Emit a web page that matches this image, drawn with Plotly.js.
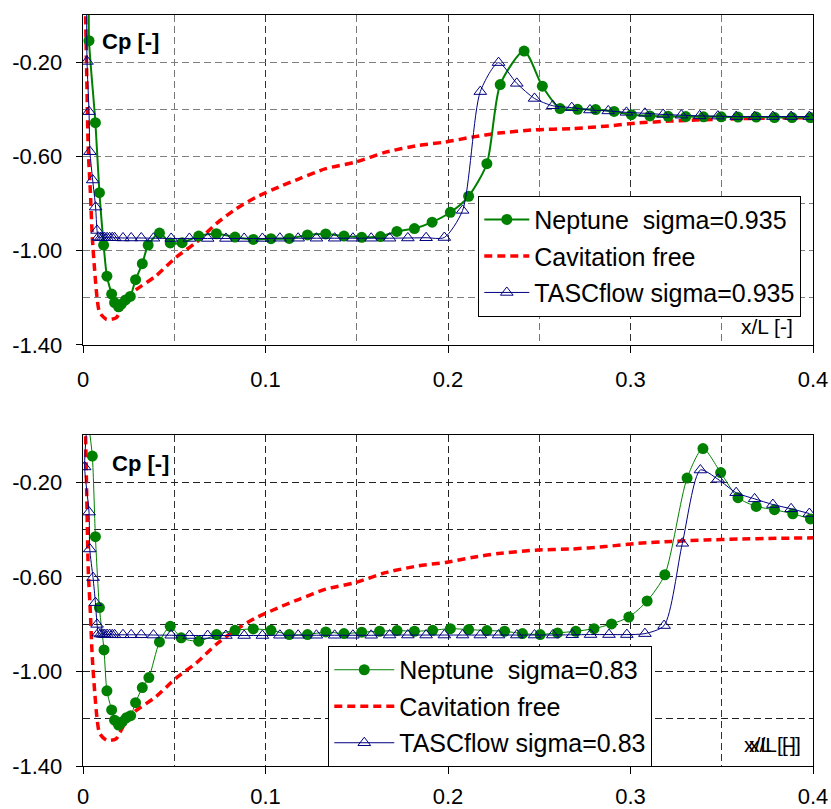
<!DOCTYPE html>
<html>
<head>
<meta charset="utf-8">
<script src="https://cdn.plot.ly/plotly-3.0.1.min.js"></script>
<style>html,body{margin:0;padding:0;background:#fff;}#chart{width:831px;height:809px;}</style>
</head>
<body>
<div id="chart"></div>
<script>
// ---- tick labels ----
const xTickVals = [0, 0.1, 0.2, 0.3, 0.4];
const xTickText = ["0", "0.1", "0.2", "0.3", "0.4"];
const yTickVals = [-0.2, -0.6, -1.0, -1.4];
const yTickText = ["-0.20", "-0.60", "-1.00", "-1.40"];

// ---- series names ----
const nameNeptune1 = "Neptune\u00a0 sigma=0.935";
const nameTasc1 = "TASCflow sigma=0.935";
const nameNeptune2 = "Neptune\u00a0 sigma=0.83";
const nameTasc2 = "TASCflow sigma=0.83";
const nameFree = "Cavitation free";

// ---- top panel: sigma = 0.935 ----
const neptune1X = [0.0032,0.0033,0.0068,0.0090,0.0113,0.0131,0.0157,0.0173,0.0195,0.0210,
  0.0233,0.0259,0.0288,0.0325,0.0357,0.0419,0.0478,0.0543,0.0634,0.0731,
  0.0833,0.0933,0.1030,0.1130,0.1230,0.1330,0.1430,0.1527,0.1630,0.1720,
  0.1816,0.1913,0.2013,0.2113,0.2213,0.2286,0.2417,0.2517,0.2614,0.2710,
  0.2809,0.2910,0.3005,0.3106,0.3206,0.3303,0.3400,0.3497,0.3589,0.3689,
  0.3789,0.3885,0.3986];
const neptune1Y = [0.05,-0.109,-0.457,-0.754,-0.976,-1.108,-1.184,-1.220,-1.238,-1.227,
  -1.209,-1.194,-1.123,-1.055,-0.976,-0.925,-0.967,-0.966,-0.938,-0.928,
  -0.942,-0.952,-0.949,-0.948,-0.933,-0.929,-0.938,-0.943,-0.940,-0.918,
  -0.906,-0.879,-0.837,-0.769,-0.631,-0.295,-0.153,-0.302,-0.397,-0.400,
  -0.401,-0.409,-0.423,-0.428,-0.430,-0.431,-0.432,-0.432,-0.433,-0.433,
  -0.435,-0.435,-0.435];

const tasc1X = [0.0020,0.0022,0.0033,0.0038,0.0053,0.0069,0.0077,0.0084,0.0097,0.0108,
  0.0119,0.0132,0.0146,0.0160,0.0173,0.0219,0.0264,0.0319,0.0386,0.0483,
  0.0583,0.0683,0.0783,0.0883,0.0983,0.1079,0.1179,0.1279,0.1379,0.1479,
  0.1579,0.1680,0.1780,0.1880,0.1980,0.2080,0.2177,0.2277,0.2377,0.2474,
  0.2574,0.2678,0.2778,0.2878,0.2978,0.3079,0.3179,0.3279,0.3379,0.3479,
  0.3579,0.3680,0.3780,0.3880,0.3980];
const tasc1Y = [0.05,-0.197,-0.410,-0.580,-0.700,-0.815,-0.914,-0.943,-0.945,-0.945,
  -0.945,-0.945,-0.945,-0.945,-0.945,-0.946,-0.946,-0.946,-0.947,-0.948,
  -0.948,-0.948,-0.948,-0.948,-0.948,-0.947,-0.947,-0.947,-0.947,-0.947,
  -0.947,-0.947,-0.946,-0.945,-0.944,-0.829,-0.325,-0.202,-0.290,-0.354,
  -0.385,-0.393,-0.403,-0.407,-0.413,-0.417,-0.422,-0.425,-0.428,-0.429,
  -0.431,-0.431,-0.431,-0.431,-0.431];

// ---- cavitation free (both panels) ----
const freeX = [0.0013,0.0022,0.0029,0.0040,0.0051,0.0064,0.0077,0.0091,0.0128,0.0155,
  0.0183,0.0219,0.0273,0.0401,0.0510,0.0620,0.0729,0.0838,0.0948,0.1093,
  0.1184,0.1330,0.1494,0.1658,0.1840,0.1986,0.2131,0.2277,0.2478,0.2678,
  0.2860,0.3042,0.3224,0.3407,0.3589,0.3800,0.4000];
const freeY = [0.05,-0.319,-0.574,-0.745,-0.943,-1.085,-1.199,-1.262,-1.291,-1.291,
  -1.284,-1.234,-1.177,-1.106,-1.028,-0.965,-0.886,-0.823,-0.773,-0.723,
  -0.695,-0.652,-0.624,-0.582,-0.553,-0.539,-0.518,-0.501,-0.487,-0.482,
  -0.472,-0.458,-0.450,-0.444,-0.440,-0.437,-0.435];

// ---- bottom panel: sigma = 0.83 ----
const neptune2X = [0.0030,0.0051,0.0068,0.0090,0.0115,0.0131,0.0157,0.0173,0.0195,0.0215,
  0.0237,0.0261,0.0288,0.0325,0.0361,0.0419,0.0478,0.0538,0.0634,0.0732,
  0.0833,0.0933,0.1030,0.1130,0.1230,0.1330,0.1430,0.1527,0.1625,0.1721,
  0.1816,0.1916,0.2013,0.2113,0.2213,0.2310,0.2408,0.2505,0.2600,0.2700,
  0.2800,0.2896,0.2991,0.3091,0.3188,0.3310,0.3397,0.3494,0.3589,0.3689,
  0.3789,0.3889,0.3986];
const neptune2Y = [0.05,-0.089,-0.430,-0.730,-0.909,-1.082,-1.163,-1.206,-1.227,-1.213,
  -1.196,-1.187,-1.132,-1.068,-1.026,-0.875,-0.809,-0.858,-0.872,-0.844,
  -0.826,-0.820,-0.826,-0.844,-0.844,-0.833,-0.840,-0.834,-0.830,-0.827,
  -0.830,-0.826,-0.819,-0.823,-0.827,-0.830,-0.840,-0.844,-0.837,-0.830,
  -0.819,-0.799,-0.770,-0.702,-0.591,-0.182,-0.057,-0.159,-0.265,-0.302,
  -0.316,-0.333,-0.355];

const tasc2X = [0.0022,0.0009,0.0033,0.0037,0.0055,0.0068,0.0077,0.0084,0.0097,0.0108,
  0.0119,0.0132,0.0146,0.0160,0.0173,0.0219,0.0264,0.0319,0.0386,0.0483,
  0.0583,0.0683,0.0783,0.0883,0.0983,0.1079,0.1179,0.1279,0.1379,0.1479,
  0.1579,0.1680,0.1780,0.1880,0.1980,0.2080,0.2177,0.2277,0.2377,0.2474,
  0.2574,0.2681,0.2781,0.2882,0.2980,0.3079,0.3184,0.3284,0.3383,0.3479,
  0.3579,0.3680,0.3780,0.3880,0.3980];
const tasc2Y = [0.05,-0.135,-0.326,-0.482,-0.603,-0.709,-0.801,-0.838,-0.842,-0.843,
  -0.844,-0.844,-0.844,-0.845,-0.845,-0.845,-0.845,-0.845,-0.846,-0.847,
  -0.848,-0.848,-0.848,-0.848,-0.848,-0.847,-0.847,-0.847,-0.847,-0.847,
  -0.847,-0.846,-0.846,-0.846,-0.846,-0.846,-0.846,-0.846,-0.846,-0.846,
  -0.846,-0.845,-0.844,-0.844,-0.844,-0.840,-0.806,-0.458,-0.148,-0.187,
  -0.244,-0.270,-0.294,-0.312,-0.332];

const GREEN = '#008000', NAVY = '#000080', RED = '#ff0000';
const FONT = 'Liberation Sans, Arial, sans-serif';

function neptune(x, y, name, xa, ya, lg, w) {
  return {x, y, name, xaxis: xa, yaxis: ya, legend: lg, legendgroup: lg + 'a', legendrank: 1,
    type: 'scatter', mode: 'lines+markers',
    line: {color: GREEN, width: w, shape: 'spline', smoothing: 0.7},
    marker: {symbol: 'circle', size: 11, color: GREEN}};
}
function free(xa, ya, lg) {
  return {x: freeX, y: freeY, name: nameFree, xaxis: xa, yaxis: ya, legend: lg, legendgroup: lg + 'b', legendrank: 2,
    type: 'scatter', mode: 'lines',
    line: {color: RED, width: 3.5, dash: '8px,5px', shape: 'spline', smoothing: 0.7}};
}
function tasc(x, y, name, xa, ya, lg) {
  return {x, y, name, xaxis: xa, yaxis: ya, legend: lg, legendgroup: lg + 'c', legendrank: 3,
    type: 'scatter', mode: 'lines+markers',
    line: {color: NAVY, width: 1, shape: 'spline', smoothing: 0.7},
    marker: {symbol: 'triangle-up-open', size: 11, color: NAVY, line: {width: 1, color: NAVY}}};
}

const traces = [
  free('x', 'y', 'legend'),
  neptune(neptune1X, neptune1Y, nameNeptune1, 'x', 'y', 'legend', 2),
  tasc(tasc1X, tasc1Y, nameTasc1, 'x', 'y', 'legend'),
  free('x2', 'y2', 'legend2'),
  neptune(neptune2X, neptune2Y, nameNeptune2, 'x2', 'y2', 'legend2', 1),
  tasc(tasc2X, tasc2Y, nameTasc2, 'x2', 'y2', 'legend2')
];

function xAxis(anchor, gridMajor, gridMinor, standoff) {
  return {anchor, domain: [0, 1], range: [0, 0.4], tickmode: 'array', tickvals: xTickVals, ticktext: xTickText,
    ticks: 'outside', ticklen: 7, tickcolor: '#000', tickwidth: 1, ticklabelstandoff: standoff,
    showline: true, mirror: true, linecolor: '#000', linewidth: 1.3, zeroline: false,
    showgrid: true, gridcolor: gridMajor, griddash: '7px,4px', gridwidth: 1,
    minor: {tickmode: 'linear', tick0: 0, dtick: 0.05, showgrid: true, gridcolor: gridMinor, griddash: '7px,4px', gridwidth: 1, ticks: ''},
    tickfont: {size: 22, family: FONT, color: '#000'}, fixedrange: true};
}
function yAxis(anchor, domain, grid) {
  return {anchor, domain, range: [-1.4, 0], tickmode: 'array', tickvals: yTickVals, ticktext: yTickText,
    ticks: 'outside', ticklen: 6, tickcolor: '#000', tickwidth: 1, ticklabelstandoff: 9,
    showline: true, mirror: true, linecolor: '#000', linewidth: 1.3, zeroline: false,
    showgrid: true, gridcolor: grid, griddash: '7px,4px', gridwidth: 1,
    minor: {tickmode: 'linear', tick0: 0, dtick: 0.2, showgrid: true, gridcolor: grid, griddash: '7px,4px', gridwidth: 1, ticks: ''},
    tickfont: {size: 22, family: FONT, color: '#000'}, fixedrange: true};
}

const legendBase = {xanchor: 'left', yanchor: 'top', bgcolor: '#fff', bordercolor: '#000', borderwidth: 1,
  font: {size: 25, family: FONT, color: '#000'}, tracegroupgap: 1, traceorder: 'grouped'};

const layout = {
  width: 831, height: 809,
  margin: {l: 83, r: 18, t: 15, b: 43},
  paper_bgcolor: '#fff', plot_bgcolor: '#fff',
  font: {family: FONT, size: 22, color: '#000'},
  showlegend: true,
  xaxis: xAxis('y', '#333', '#777', 7),
  yaxis: yAxis('x', [0.5606, 1], '#808080'),
  xaxis2: xAxis('y2', '#222', '#333', 3),
  yaxis2: yAxis('x2', [0, 0.4407], '#222'),
  legend: Object.assign({}, legendBase, {x: 0.5415, y: 0.7594, itemwidth: 45}),
  legend2: Object.assign({}, legendBase, {x: 0.336, y: 0.1598, itemwidth: 60}),
  annotations: [
    {text: '<b>Cp [-]</b>', xref: 'x domain', yref: 'y domain', x: 0.0229, y: 0.919, xanchor: 'left', yanchor: 'middle', showarrow: false, font: {size: 22, family: FONT}},
    {text: 'x/L [-]', xref: 'x domain', yref: 'y domain', x: 0.975, y: 0.0555, xanchor: 'right', yanchor: 'middle', showarrow: false, font: {size: 21, family: FONT}},
    {text: '<b>Cp [-]</b>', xref: 'x2 domain', yref: 'y2 domain', x: 0.0366, y: 0.914, xanchor: 'left', yanchor: 'middle', showarrow: false, font: {size: 22, family: FONT}},
    {text: 'x/L [-]', xref: 'x2 domain', yref: 'y2 domain', x: 0.986, y: 0.0656, xanchor: 'right', yanchor: 'middle', showarrow: false, font: {size: 21, family: FONT}},
    {text: 'x/L [-]', xref: 'x2 domain', yref: 'y2 domain', x: 0.980, y: 0.0656, xanchor: 'right', yanchor: 'middle', showarrow: false, font: {size: 21, family: FONT}}
  ]
};

Plotly.newPlot('chart', traces, layout, {displayModeBar: false, staticPlot: true});
</script>
</body>
</html>
